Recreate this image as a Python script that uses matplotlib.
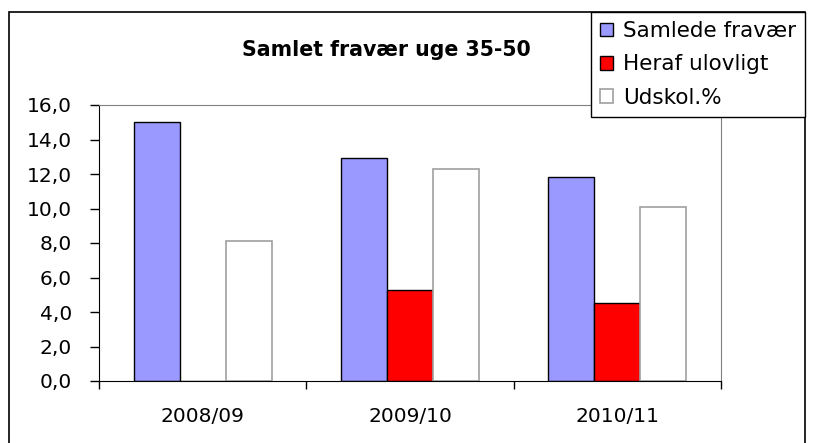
import matplotlib.pyplot as plt
import numpy as np
from matplotlib.patches import Rectangle
from matplotlib.ticker import FuncFormatter

plt.rcParams['font.family'] = ['DejaVu Sans']

seasons = ["2008/09", "2009/10", "2010/11"]
samlede = [15.0, 12.9, 11.8]
ulovligt = [0.0, 5.3, 4.5]
udskol = [8.1, 12.3, 10.1]

W, H = 816, 443
fig = plt.figure(figsize=(W / 100, H / 100), dpi=100)

# outer chart frame (bottom edge is cut off in the reference)
fig.patches.append(Rectangle((9 / W, -0.05), (805 - 9) / W, 1.05 - 12 / H,
                             transform=fig.transFigure, fill=False,
                             edgecolor="black", linewidth=1.2, clip_on=False))

ax = fig.add_axes([99 / W, 1 - 381 / H, (721 - 99) / W, (381 - 105) / H])

x = np.arange(len(seasons))
w = 1 / 4.5
ax.bar(x - w, samlede, w, color="#9999FF", edgecolor="black", linewidth=1,
       label="Samlede fravær")
ax.bar(x, ulovligt, w, color="#FF0000", edgecolor="black", linewidth=1,
       label="Heraf ulovligt")
ax.bar(x + w, udskol, w, color="white", edgecolor="#A0A0A0", linewidth=1.2,
       label="Udskol.%")

ax.set_xlim(-0.5, len(seasons) - 0.5)
ax.set_ylim(0, 16)
ax.set_yticks(np.arange(0, 17, 2))
ax.yaxis.set_major_formatter(FuncFormatter(lambda v, p: f"{v:.1f}".replace(".", ",")))

ax.set_xticks(np.arange(len(seasons) + 1) - 0.5)
ax.set_xticklabels([])
ax.set_xticks(x, minor=True)
ax.set_xticklabels(seasons, minor=True)
ax.tick_params(axis="x", which="minor", length=0, pad=19, labelsize=14.5)
ax.tick_params(axis="x", which="major", length=6, direction="out", width=1)
ax.tick_params(axis="y", length=6.5, width=1, labelsize=14.5, pad=13)

for s in ["top", "right"]:
    ax.spines[s].set_color("#808080")
for s in ["left", "bottom"]:
    ax.spines[s].set_color("black")

fig.text(386 / W, 1 - 50 / H, "Samlet fravær uge 35-50", ha="center",
         va="center", fontsize=14.8, fontweight="bold")

leg = fig.legend(loc="upper right", bbox_to_anchor=(805 / W, 1 - 12 / H),
                 fontsize=15.5, frameon=True, fancybox=False, framealpha=1,
                 edgecolor="black", borderpad=0.42, labelspacing=0.62,
                 handlelength=0.6, handleheight=0.6, handletextpad=0.45,
                 borderaxespad=0)
leg.get_frame().set_linewidth(1)

fig.savefig("out.png", dpi=100)
